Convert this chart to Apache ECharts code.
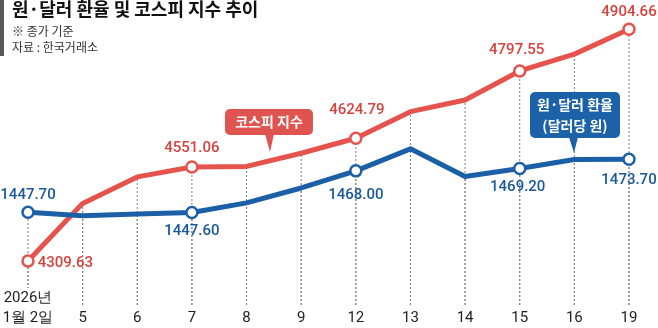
<!DOCTYPE html>
<html><head><meta charset="utf-8">
<script src="https://cdn.jsdelivr.net/npm/echarts@6/dist/echarts.min.js"></script>
<style>html,body{margin:0;padding:0;background:#fff}#c{width:658px;height:328px}</style>
</head><body><div id="c"></div>
<script>
// ---- data ----
const categories = ['2026년\n1월 2일','5','6','7','8','9','12','13','14','15','16','19'];
const kospi  = [4309.63, 4457.5, 4525.5, 4551.06, 4552.4, 4586.3, 4624.79, 4693.0, 4723.1, 4797.55, 4840.7, 4904.66];
const usdkrw = [1447.70, 1446.0, 1446.8, 1447.60, 1452.3, 1459.6, 1468.00, 1478.8, 1465.2, 1469.20, 1473.6, 1473.70];
const kospiLabelIdx = [0, 3, 6, 9, 11];
const usdLabelIdx   = [0, 3, 6, 9, 11];

// ---- styles ----
const RED = '#e6524c', RED_TXT = '#d6423d';
const BLUE = '#1b5fa7', BLUE_TXT = '#19589a';
const NUMFONT = 'Roboto, "Liberation Sans", Arial, sans-serif';
const KFONT = '"Noto Sans CJK KR", sans-serif';
const kospiLabelStyle = {
  0: {position: 'right', distance: 3, offset: [0, 2]},
  3: {position: 'top', distance: 4, offset: [0, 0]},
  6: {position: 'top', distance: 14, offset: [1, 0]},
  9: {position: 'top', distance: 6, offset: [-3, 0]},
  11:{position: 'top', distance: 3, offset: [0, 0]}
};
const usdLabelStyle = {
  0: {position: 'top', distance: 3, offset: [0, 0]},
  3: {position: 'bottom', distance: 5, offset: [0, 0]},
  6: {position: 'bottom', distance: 10, offset: [0, 0]},
  9: {position: 'bottom', distance: 5, offset: [-2, 0]},
  11:{position: 'bottom', distance: 7, offset: [0, 0]}
};

function buildData(vals, idxs, styles, color, txtColor) {
  return vals.map((v, i) => {
    if (idxs.indexOf(i) < 0) return {value: v, symbol: 'none'};
    const s = styles[i];
    return {
      value: v, symbol: 'circle', symbolSize: 11,
      itemStyle: {color: '#fff', borderColor: color, borderWidth: 2.5},
      label: {show: true, position: s.position, distance: s.distance, offset: s.offset,
        color: txtColor, fontSize: 15, fontWeight: 500, fontFamily: NUMFONT,
        formatter: () => vals[i].toFixed(2)}
    };
  });
}

function dotRender(params, api) {
  const p = api.coord([api.value(0), api.value(1)]);
  const bottom = params.coordSys.y + params.coordSys.height;
  return {type: 'line', silent: true,
    shape: {x1: p[0], y1: bottom, x2: p[0], y2: p[1]},
    style: {stroke: '#7f7f7f', lineWidth: 1, lineDash: [2, 2]}};
}

const chart = echarts.init(document.getElementById('c'), null, {renderer: 'canvas'});
chart.setOption({
  animation: false,
  backgroundColor: '#fff',
  grid: {left: 28, right: 29, top: 20, bottom: 23, outerBoundsMode: 'none'},
  xAxis: {
    type: 'category', data: categories, boundaryGap: false, z: 5,
    axisLine: {show: false}, axisTick: {show: false}, splitLine: {show: false},
    axisLabel: {interval: 0, fontSize: 15, color: '#1e1e1e', fontFamily: NUMFONT,
      lineHeight: 20, verticalAlign: 'bottom', margin: 23,
      backgroundColor: '#fff'}
  },
  yAxis: [
    {type: 'value', show: false, min: 4196.7, max: 4928.3, splitLine: {show: false}},
    {type: 'value', show: false, min: 1402.2, max: 1542.0, splitLine: {show: false}}
  ],
  series: [
    {type: 'custom', yAxisIndex: 0, z: 1, renderItem: dotRender, encode: {x: 0, y: 1},
      data: kospi.map((v, i) => [i, v])},
    {type: 'custom', yAxisIndex: 1, z: 1, renderItem: dotRender, encode: {x: 0, y: 1},
      data: usdkrw.map((v, i) => [i, v])},
    {type: 'line', name: '코스피 지수', yAxisIndex: 0, z: 3, showAllSymbol: true,
      lineStyle: {color: RED, width: 5, join: 'round'},
      itemStyle: {color: RED},
      data: buildData(kospi, kospiLabelIdx, kospiLabelStyle, RED, RED_TXT)},
    {type: 'line', name: '원·달러 환율', yAxisIndex: 1, z: 4, showAllSymbol: true,
      lineStyle: {color: BLUE, width: 5, join: 'round'},
      itemStyle: {color: BLUE},
      data: buildData(usdkrw, usdLabelIdx, usdLabelStyle, BLUE, BLUE_TXT)}
  ],
  graphic: [
    {type: 'rect', left: 0, top: 0, shape: {width: 4, height: 56}, style: {fill: '#5a5a5a'}},
    {type: 'text', left: 12, top: 0, style: {text: '원·달러 환율 및 코스피 지수 추이',
      font: 'bold 18px ' + KFONT, fill: '#111'}},
    {type: 'text', left: 12, top: 25, style: {text: '※ 종가 기준', font: '12px ' + KFONT, fill: '#333'}},
    {type: 'text', left: 12, top: 41, style: {text: '자료 : 한국거래소', font: '12px ' + KFONT, fill: '#333'}},
    // KOSPI callout
    {type: 'rect', shape: {x: 225, y: 109, width: 88, height: 26, r: 5}, style: {fill: '#e0544f'}, z: 10},
    {type: 'polygon', shape: {points: [[265, 134], [274, 134], [270, 152]]}, style: {fill: '#e0544f'}, z: 10},
    {type: 'text', z: 11, style: {x: 269, y: 122, text: '코스피 지수', align: 'center', verticalAlign: 'middle',
      font: 'bold 14px ' + KFONT, fill: '#fff'}},
    // FX callout
    {type: 'rect', shape: {x: 530, y: 92, width: 90, height: 46, r: 5}, style: {fill: '#1c62a8'}, z: 10},
    {type: 'polygon', shape: {points: [[569, 137], [578, 137], [574, 153]]}, style: {fill: '#1c62a8'}, z: 10},
    {type: 'text', z: 11, style: {x: 575, y: 115, text: '원·달러 환율\n(달러당 원)', align: 'center', verticalAlign: 'middle',
      lineHeight: 21, font: 'bold 14px ' + KFONT, fill: '#fff'}}
  ]
});
</script>
</body></html>
